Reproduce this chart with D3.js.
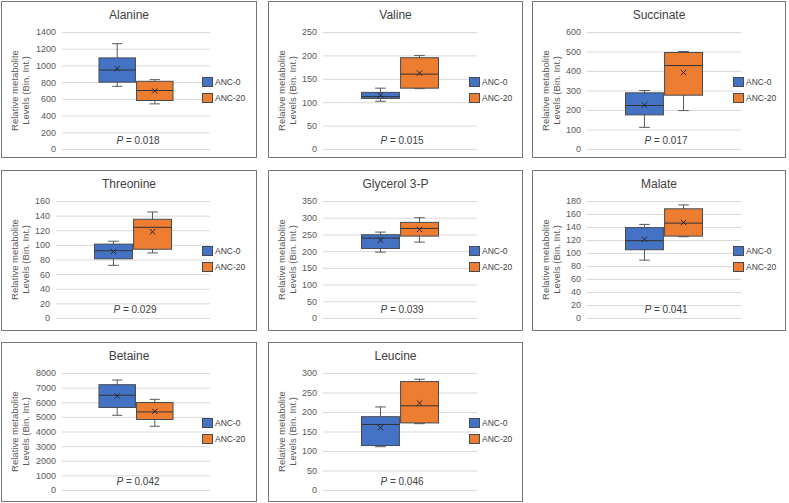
<!DOCTYPE html>
<html>
<head>
<meta charset="utf-8">
<script src="https://cdn.jsdelivr.net/npm/d3@7"></script>
<style>
  body { margin: 0; background: #fff; }
  svg { display: block; font-family: "Liberation Sans", Arial, sans-serif; }
</style>
</head>
<body>
<div id="chart"></div>
<script>
// metabolite box plots, ANC-0 vs ANC-20

const metabolites = ["Alanine", "Valine", "Succinate", "Threonine", "Glycerol 3-P", "Malate", "Betaine", "Leucine"];
const pValues = ["0.018", "0.015", "0.017", "0.029", "0.039", "0.041", "0.042", "0.046"];
const yMax = [1400, 250, 600, 160, 350, 180, 8000, 300];
const yStep = [200, 50, 100, 20, 50, 20, 1000, 50];
const groups = ["ANC-0", "ANC-20"];

const anc0Min = [750, 102, 111, 72, 197, 89, 5110, 111];
const anc0Q1 = [800, 108, 175, 81, 208, 105, 5640, 114];
const anc0Median = [945, 112, 223, 92, 239, 119, 6480, 168];
const anc0Q3 = [1090, 121, 288, 101, 249, 139, 7200, 188];
const anc0Max = [1260, 130, 300, 105, 257, 144, 7520, 213];
const anc0Mean = [960, 115, 225, 91, 233, 121, 6430, 160];

const anc20Min = [540, 129, 197, 89, 227, 125, 4360, 170];
const anc20Q1 = [580, 130, 276, 94, 245, 126, 4820, 172];
const anc20Median = [700, 160, 428, 124, 268, 146, 5340, 216];
const anc20Q3 = [810, 195, 495, 135, 286, 168, 5980, 278];
const anc20Max = [830, 200, 500, 145, 300, 174, 6200, 284];
const anc20Mean = [695, 162, 392, 118, 265, 147, 5380, 223];

const width = 789;
const height = 503;
const colX = [1, 268, 532];
const colW = [256, 255, 254];
const rowY = [1, 170, 342];
const rowH = [157, 161, 160];
const fills = { "ANC-0": "#4472c4", "ANC-20": "#ed7d31" };

const svg = d3.select('#chart').append('svg')
  .attr('width', width)
  .attr('height', height)

metabolites.forEach((name, i) => {
  const col = i % 3, row = Math.floor(i / 3);
  const w = colW[col], h = rowH[row];
  const g = svg.append('g').attr('transform', `translate(${colX[col]}, ${rowY[row]})`);

  g.append('rect')
    .attr('x', 0.5).attr('y', 0.5)
    .attr('width', w - 1).attr('height', h - 1)
    .attr('fill', '#fff')
    .attr('stroke', '#767676')

  const top = 31, bottom = 148;
  const left = String(yMax[i]).length > 3 ? 61 : 55;
  const right = 209;
  const pw = right - left;

  const y = d3.scaleLinear().domain([0, yMax[i]]).range([bottom, top]);
  const x = d3.scaleBand().domain(groups)
    .range([left + pw * 0.25, right - pw * 0.25])
    .paddingInner(0.03)

  // title
  g.append('text')
    .attr('x', w / 2).attr('y', 18)
    .attr('text-anchor', 'middle')
    .style('font-size', '12px')
    .style('fill', '#404040')
    .text(name)

  // y axis with gridlines
  const axis = g.append('g')
    .attr('transform', `translate(${left},0)`)
    .call(d3.axisLeft(y)
      .tickValues(d3.range(0, yMax[i] + 1, yStep[i]))
      .tickFormat(d3.format('d'))
      .tickSize(-pw)
      .tickPadding(6))
  axis.select('.domain').remove()
  axis.selectAll('line').attr('stroke', '#d9d9d9')
  axis.selectAll('text')
    .style('font-size', '9px')
    .style('font-family', '"Liberation Sans", Arial, sans-serif')
    .style('fill', '#595959')

  // y axis title
  const yt = g.append('text')
    .attr('transform', `translate(16.5, ${(top + bottom) / 2}) rotate(-90)`)
    .attr('text-anchor', 'middle')
    .style('font-size', '9.5px')
    .style('fill', '#595959')
  yt.append('tspan').attr('x', 0).attr('dy', 0).text('Relative metabolite')
  yt.append('tspan').attr('x', 0).attr('dy', 11.5).text('Levels (Bin. Int.)')

  const stats = [
    { key: "ANC-0", min: anc0Min[i], q1: anc0Q1[i], med: anc0Median[i], q3: anc0Q3[i], max: anc0Max[i], mean: anc0Mean[i] },
    { key: "ANC-20", min: anc20Min[i], q1: anc20Q1[i], med: anc20Median[i], q3: anc20Q3[i], max: anc20Max[i], mean: anc20Mean[i] }
  ];
  const bw = x.bandwidth();

  const box = g.selectAll('.box')
    .data(stats)
    .enter().append('g')
    .attr('class', 'box')
    .attr('transform', d => `translate(${x(d.key)},0)`)

  // whisker
  box.append('line')
    .attr('x1', bw / 2).attr('x2', bw / 2)
    .attr('y1', d => y(d.min)).attr('y2', d => y(d.max))
    .attr('stroke', '#595959')
  box.selectAll('.cap')
    .data(d => [d.min, d.max])
    .enter().append('line')
    .attr('class', 'cap')
    .attr('x1', bw / 2 - bw * 0.14).attr('x2', bw / 2 + bw * 0.14)
    .attr('y1', v => y(v)).attr('y2', v => y(v))
    .attr('stroke', '#595959')

  box.append('rect')
    .attr('x', 0).attr('width', bw)
    .attr('y', d => y(d.q3))
    .attr('height', d => y(d.q1) - y(d.q3))
    .attr('fill', d => fills[d.key])
    .attr('stroke', '#454a52')

  box.append('line')
    .attr('x1', 0).attr('x2', bw)
    .attr('y1', d => y(d.med)).attr('y2', d => y(d.med))
    .attr('stroke', '#333')

  // mean marker
  box.selectAll('.mean')
    .data(d => [[-1, -1, 1, 1], [-1, 1, 1, -1]].map(s => ({ s, v: d.mean })))
    .enter().append('line')
    .attr('class', 'mean')
    .attr('x1', d => bw / 2 + d.s[0] * 2.7).attr('y1', d => y(d.v) + d.s[1] * 2.7)
    .attr('x2', d => bw / 2 + d.s[2] * 2.7).attr('y2', d => y(d.v) + d.s[3] * 2.7)
    .attr('stroke', '#262626')

  // legend
  const leg = g.selectAll('.leg')
    .data(groups)
    .enter().append('g')
    .attr('class', 'leg')
    .attr('transform', (d, j) => `translate(201, ${81 + j * 16})`)
  leg.append('rect')
    .attr('x', 0.5).attr('y', -4.5)
    .attr('width', 10).attr('height', 9)
    .attr('fill', d => fills[d])
    .attr('stroke', '#454a52')
  leg.append('text')
    .attr('x', 13).attr('y', 3)
    .style('font-size', '8.5px')
    .style('fill', '#404040')
    .text(d => d)

  // p value
  const pt = g.append('text')
    .attr('x', (left + right) / 2 + 2).attr('y', bottom - 5)
    .attr('text-anchor', 'middle')
    .style('font-size', '10px')
    .style('fill', '#404040')
  pt.append('tspan').style('font-style', 'italic').text('P')
  pt.append('tspan').text(' = ' + pValues[i])
})
</script>
</body>
</html>
